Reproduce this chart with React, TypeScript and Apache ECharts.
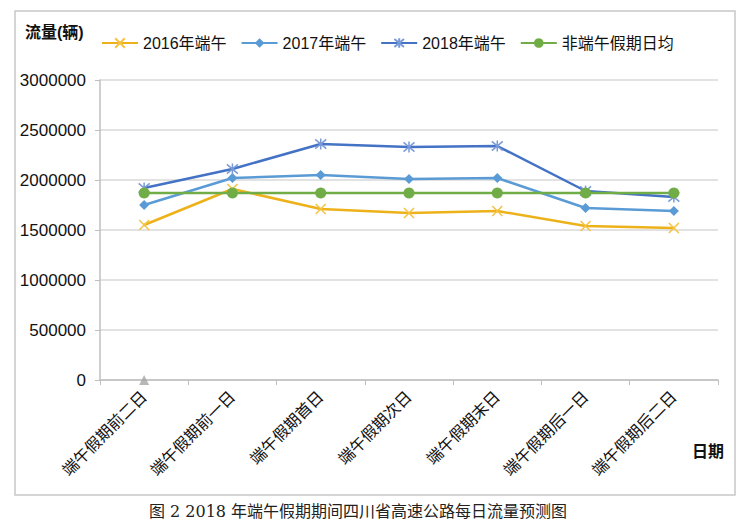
import React, { useEffect, useRef } from "react";
import * as echarts from "echarts";

const categories = ["端午假期前二日", "端午假期前一日", "端午假期首日", "端午假期次日", "端午假期末日", "端午假期后一日", "端午假期后二日"];
const s2016 = [1550000, 1910000, 1710000, 1670000, 1690000, 1540000, 1520000];
const s2017 = [1750000, 2020000, 2050000, 2010000, 2020000, 1720000, 1690000];
const s2018 = [1920000, 2110000, 2360000, 2330000, 2340000, 1890000, 1830000];
const sAvg = [1870000, 1870000, 1870000, 1870000, 1870000, 1870000, 1870000];
const sMarker = [0, null, null, null, null, null, null];
const yTicks = { min: 0, max: 3000000, interval: 500000 };

const X_PATH = "path://M0,0L10,10M10,0L0,10";
const STAR_PATH = "path://M0,0L10,10M10,0L0,10M5,-1L5,11";

export default function App() {
  const ref = useRef<HTMLDivElement>(null);
  useEffect(() => {
    const chart = echarts.init(ref.current!, null, { renderer: "svg" });
    const font = "Liberation Sans, Arial, Noto Sans CJK SC, sans-serif";
    chart.setOption({
      animation: false,
      textStyle: { fontFamily: font },
      grid: { left: 100, top: 80, right: 37, bottom: 148, containLabel: false },
      legend: {
        left: 96,
        top: 30,
        itemWidth: 36,
        itemHeight: 12,
        itemGap: 14,
        textStyle: { fontSize: 16, color: "#111", fontFamily: font },
        data: ["2016年端午", "2017年端午", "2018年端午", "非端午假期日均"],
      },
      xAxis: {
        type: "category",
        data: categories,
        boundaryGap: true,
        axisLine: { lineStyle: { color: "#bfbfbf", width: 1.5 } },
        axisTick: { show: true, length: 5, lineStyle: { color: "#bfbfbf" } },
        axisLabel: { rotate: 45, fontSize: 16, color: "#111", margin: 14, interval: 0, fontFamily: font },
      },
      yAxis: {
        type: "value",
        min: yTicks.min,
        max: yTicks.max,
        interval: yTicks.interval,
        axisLine: { show: true, lineStyle: { color: "#bfbfbf", width: 1.5 } },
        axisTick: { show: true, length: 5, lineStyle: { color: "#bfbfbf" } },
        splitLine: { lineStyle: { color: "#d9d9d9", width: 1.5 } },
        axisLabel: { fontSize: 17, color: "#111", margin: 14, fontFamily: font, formatter: (v: number) => String(v) },
      },
      series: [
        {
          name: "2016年端午", type: "line", data: s2016,
          symbol: X_PATH, symbolSize: 10,
          lineStyle: { color: "#EDB21A", width: 2.5 },
          itemStyle: { color: "none", borderColor: "#F5C242", borderWidth: 1.5 },
        },
        {
          name: "2017年端午", type: "line", data: s2017,
          symbol: "diamond", symbolSize: 10,
          lineStyle: { color: "#5B9BD5", width: 2.5 },
          itemStyle: { color: "#5B9BD5" },
        },
        {
          name: "2018年端午", type: "line", data: s2018,
          symbol: STAR_PATH, symbolSize: 11,
          lineStyle: { color: "#4472C4", width: 2.5 },
          itemStyle: { color: "none", borderColor: "#7A9BD8", borderWidth: 1.5 },
        },
        {
          name: "非端午假期日均", type: "line", data: sAvg,
          symbol: "circle", symbolSize: 11,
          lineStyle: { color: "#70AD47", width: 2.5 },
          itemStyle: { color: "#70AD47" },
        },
        {
          name: "marker", type: "scatter", data: sMarker,
          symbol: "triangle", symbolSize: 10,
          itemStyle: { color: "#A5A5A5" },
        },
      ],
      graphic: [
        { type: "rect", shape: { x: 15, y: 11, width: 720, height: 484 }, style: { fill: "none", stroke: "#c8c8c8", lineWidth: 1.5 }, silent: true },
        { type: "text", left: 25, top: 24, style: { text: "流量(辆)", fill: "#111", font: "bold 16px " + font } },
        { type: "text", left: 692, top: 443, style: { text: "日期", fill: "#111", font: "bold 16px " + font } },
        { type: "text", x: 358, y: 511, style: { text: "图 2 2018 年端午假期期间四川省高速公路每日流量预测图", font: "16px DejaVu Serif, Noto Sans CJK SC, serif", fill: "#222", align: "center", verticalAlign: "middle" } },
      ],
    });
    return () => chart.dispose();
  }, []);
  return <div ref={ref} style={{ position: "fixed", left: 0, top: 0, width: 755, height: 528, background: "#fff" }} />;
}
